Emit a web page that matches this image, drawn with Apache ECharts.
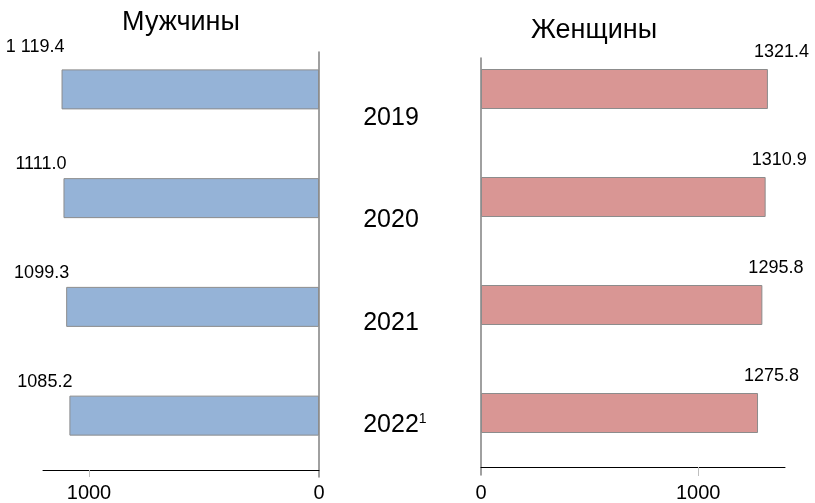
<!DOCTYPE html>
<html>
<head>
<meta charset="utf-8">
<script src="https://cdn.jsdelivr.net/npm/echarts@6/dist/echarts.min.js"></script>
<style>
html,body{margin:0;padding:0;background:#fff;}
#c{width:815px;height:503px;}
</style>
</head>
<body>
<div id="c"></div>
<script>
const years = ['2019', '2020', '2021', '2022'];
const maleValues = [1119.4, 1111.0, 1099.3, 1085.2];
const femaleValues = [1321.4, 1310.9, 1295.8, 1275.8];
const maleLabels = ['1 119.4', '1111.0', '1099.3', '1085.2'];
const femaleLabels = ['1321.4', '1310.9', '1295.8', '1275.8'];
const tickValues = [0, 1000];
const maleMax = 1200;
const femaleMax = 1400;

const FONT = 'Liberation Sans, Arial, sans-serif';
const chart = echarts.init(document.getElementById('c'));

const hiddenY = (grid) => ({
  type: 'category', gridIndex: grid, data: years, inverse: true,
  axisLine: {show: false}, axisTick: {show: false}, axisLabel: {show: false}, splitLine: {show: false}
});

const option = {
  animation: false,
  backgroundColor: '#ffffff',
  graphic: [
    {type: 'text', x: 181, y: 23, style: {text: 'Мужчины', font: '27px ' + FONT, fill: '#000', textAlign: 'center', textVerticalAlign: 'middle'}},
    {type: 'text', x: 594, y: 31, style: {text: 'Женщины', font: '27px ' + FONT, fill: '#000', textAlign: 'center', textVerticalAlign: 'middle'}}
  ],
  grid: [
    {left: 43, width: 276, top: 35, bottom: 33},   // 0 male bars
    {left: 481, width: 304, top: 35, bottom: 36},  // 1 female bars
    {left: 391, width: 1, top: 67, bottom: 27},    // 2 year labels
    {left: 43, width: 276, top: 52, bottom: 26},   // 3 male zero line
    {left: 481, width: 304, top: 58, bottom: 28}   // 4 female zero line
  ],
  xAxis: [
    {
      type: 'value', gridIndex: 0, min: 0, max: maleMax, interval: 1000, inverse: true, position: 'bottom',
      axisLine: {show: true, onZero: false, lineStyle: {color: '#000', width: 1}},
      axisTick: {show: true, customValues: [1000], length: 7, lineStyle: {color: '#bfbfbf'}},
      axisLabel: {customValues: tickValues, fontSize: 20, color: '#000', fontFamily: FONT, margin: 13, formatter: (v) => String(v)},
      splitLine: {show: true, showMinLine: false, showMaxLine: false, lineStyle: {color: '#bfbfbf', width: 1}}
    },
    {
      type: 'value', gridIndex: 1, min: 0, max: femaleMax, interval: 1000, position: 'bottom',
      axisLine: {show: true, onZero: false, lineStyle: {color: '#000', width: 1}},
      axisTick: {show: true, customValues: [1000], length: 9, lineStyle: {color: '#bfbfbf'}},
      axisLabel: {customValues: tickValues, fontSize: 20, color: '#000', fontFamily: FONT, margin: 16, formatter: (v) => String(v)},
      splitLine: {show: true, showMinLine: false, showMaxLine: false, lineStyle: {color: '#bfbfbf', width: 1}}
    },
    {type: 'value', gridIndex: 2, show: false, min: 0, max: 1},
    {type: 'value', gridIndex: 3, show: false, min: 0, max: maleMax, inverse: true},
    {type: 'value', gridIndex: 4, show: false, min: 0, max: femaleMax}
  ],
  yAxis: [
    Object.assign(hiddenY(0), {position: 'right'}),
    Object.assign(hiddenY(1), {position: 'left'}),
    {
      type: 'category', gridIndex: 2, data: years, inverse: true, position: 'left',
      axisLine: {show: false}, axisTick: {show: false}, splitLine: {show: false},
      axisLabel: {
        show: true, align: 'center', margin: 0, color: '#000',
        formatter: (v, i) => i === years.length - 1 ? '{pad|1}' + v + '{sup|1}' : v,
        fontSize: 25, fontFamily: FONT,
        rich: {
          pad: {fontSize: 14, color: 'rgba(0,0,0,0)', fontFamily: FONT, verticalAlign: 'top'},
          sup: {fontSize: 14, color: '#000', fontFamily: FONT, verticalAlign: 'top'}
        }
      }
    },
    {
      type: 'category', gridIndex: 3, data: years, position: 'right',
      axisLine: {show: true, lineStyle: {color: '#808080', width: 1.5}},
      axisTick: {show: false}, axisLabel: {show: false}, splitLine: {show: false}
    },
    {
      type: 'category', gridIndex: 4, data: years, position: 'left',
      axisLine: {show: true, lineStyle: {color: '#808080', width: 1.5}},
      axisTick: {show: false}, axisLabel: {show: false}, splitLine: {show: false}
    }
  ],
  series: [
    {
      name: 'Мужчины', type: 'bar', xAxisIndex: 0, yAxisIndex: 0, barWidth: 40,
      data: maleValues.map((v, i) => i === 0 ? {value: v, label: {offset: [0, -42]}} : v),
      itemStyle: {color: '#95b3d7', borderColor: '#8c8c8c', borderWidth: 1},
      label: {
        show: true, position: 'left', distance: -3, offset: [0, -34], align: 'right',
        color: '#000', fontSize: 18, fontFamily: FONT,
        formatter: (p) => maleLabels[p.dataIndex]
      }
    },
    {
      name: 'Женщины', type: 'bar', xAxisIndex: 1, yAxisIndex: 1, barWidth: 40,
      data: femaleValues,
      itemStyle: {color: '#d99694', borderColor: '#8c8c8c', borderWidth: 1},
      label: {
        show: true, position: 'right', distance: -14, offset: [0, -37], align: 'left',
        color: '#000', fontSize: 18, fontFamily: FONT,
        formatter: (p) => femaleLabels[p.dataIndex]
      }
    }
  ]
};
chart.setOption(option);
</script>
</body>
</html>
